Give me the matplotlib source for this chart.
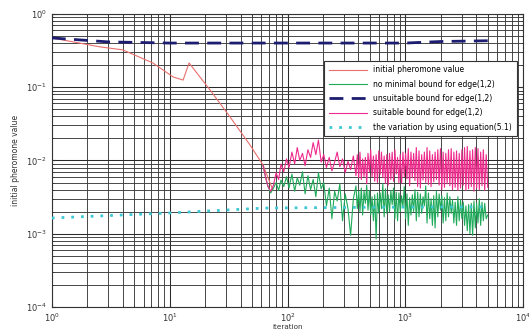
import numpy as np
import matplotlib
matplotlib.use("Agg")
import matplotlib.pyplot as plt
from matplotlib.ticker import LogLocator, NullFormatter

plt.rcParams["font.family"] = ["DejaVu Sans"]

# initial pheromone value (evaporation only)
init_x = [1, 2.56, 4.0, 7.2, 10.7, 13.0, 14.6, 22, 32.5, 48, 62, 75]
init_y = [0.47, 0.355, 0.323, 0.214, 0.138, 0.125, 0.214, 0.0917, 0.0393, 0.0163, 0.00868, 0.00396]

# unsuitable (upper) bound
upper_x = [1, 3, 10, 100, 1000, 2000, 5000]
upper_y = [0.47, 0.415, 0.40, 0.40, 0.40, 0.42, 0.43]

# variation by equation (5.1)
eq_x = [1, 10, 64, 500, 5000]
eq_y = [1.64e-3, 1.92e-3, 2.24e-3, 2.30e-3, 2.32e-3]

# iterations sampled for the noisy series
iters = [62, 65, 68, 72, 76, 80, 84, 88, 93, 98,
         103, 109, 115, 121, 127, 134, 141, 149, 157, 165, 174, 183, 193,
         203, 214, 226, 238, 251, 264, 278, 293, 309, 326, 343, 362,
         381, 391, 402, 412, 423, 434, 446, 458, 470, 482,
         495, 508, 522, 536, 550, 565, 580, 595, 611, 627,
         644, 661, 678, 696, 715, 734, 753, 773, 794, 815,
         837, 859, 882, 905, 929, 954, 979, 1005, 1032, 1059,
         1087, 1116, 1146, 1176, 1207, 1239, 1272, 1306, 1341, 1376,
         1413, 1450, 1489, 1528, 1569, 1610, 1653, 1697, 1742, 1788,
         1836, 1885, 1935, 1986, 2039, 2093, 2148, 2205, 2264, 2324,
         2386, 2449, 2514, 2581, 2649, 2719, 2791, 2865, 2941, 3019,
         3100, 3182, 3266, 3353, 3442, 3533, 3627, 3723, 3822, 3923,
         4027, 4134, 4244, 4357, 4472, 4591, 4713, 4855, 5000]

suitable = [8.5e-3, 6.0e-3, 4.5e-3, 3.8e-3, 4.6e-3, 6.8e-3, 5.5e-3, 8.9e-3, 7.0e-3, 1.05e-2,
            8.0e-3, 1.3e-2, 9.0e-3, 1.5e-2, 1.0e-2, 1.25e-2, 8.5e-3, 1.4e-2, 1.1e-2, 1.75e-2,
            1.2e-2, 1.9e-2, 9.5e-3,
            1.2e-2, 8.0e-3, 1.1e-2, 7.2e-3, 9.5e-3, 1.3e-2, 8.2e-3, 1.05e-2, 6.8e-3, 9.8e-3,
            7.5e-3, 1.15e-2,
            6.2e-3, 1.2e-2, 5.8e-3, 1.3e-2, 5.5e-3, 1.05e-2, 6.0e-3, 1.1e-2, 4.8e-3, 1.25e-2,
            7.0e-3, 1.4e-2, 6.0e-3, 1.15e-2, 5.2e-3, 1.2e-2, 5.0e-3, 1.35e-2, 6.4e-3, 1.3e-2,
            5.8e-3, 1.15e-2, 4.9e-3, 1.2e-2, 4.6e-3, 1.25e-2, 5.5e-3, 1.3e-2, 5.2e-3, 1.4e-2,
            6.5e-3, 1.1e-2, 5.0e-3, 1.2e-2, 4.9e-3, 1.3e-2, 6.0e-3, 1.25e-2, 5.6e-3, 1.45e-2,
            4.5e-3, 1.3e-2, 5.8e-3, 1.25e-2, 5.3e-3, 1.5e-2, 4.4e-3, 1.35e-2, 4.2e-3, 1.2e-2,
            5.4e-3, 1.3e-2, 5.0e-3, 1.5e-2, 4.7e-3, 1.35e-2, 4.4e-3, 1.2e-2, 5.1e-3, 1.3e-2,
            5.5e-3, 1.4e-2, 4.6e-3, 1.45e-2, 4.0e-3, 1.3e-2, 4.3e-3, 1.25e-2, 4.8e-3, 1.4e-2,
            4.5e-3, 1.45e-2, 4.0e-3, 1.3e-2, 4.3e-3, 1.35e-2, 3.9e-3, 1.25e-2, 4.2e-3, 1.4e-2,
            4.6e-3, 1.5e-2, 3.9e-3, 1.55e-2, 4.1e-3, 1.35e-2, 4.4e-3, 1.4e-2, 3.8e-3, 1.5e-2,
            4.2e-3, 1.45e-2, 4.0e-3, 1.3e-2, 4.5e-3, 1.4e-2, 3.9e-3, 1.2e-2, 4.3e-3]

no_min = [8.5e-3, 6.0e-3, 4.5e-3, 3.6e-3, 4.2e-3, 5.0e-3, 3.9e-3, 5.4e-3, 4.4e-3, 6.0e-3,
          4.2e-3, 6.5e-3, 3.8e-3, 5.8e-3, 4.6e-3, 7.0e-3, 3.5e-3, 6.2e-3, 4.0e-3, 5.5e-3,
          3.2e-3, 6.8e-3, 4.1e-3,
          5.0e-3, 2.4e-3, 4.2e-3, 1.6e-3, 3.8e-3, 2.8e-3, 4.8e-3, 1.5e-3, 3.5e-3, 2.2e-3,
          9.5e-4, 3.0e-3,
          4.5e-3, 2.2e-3, 3.8e-3, 2.0e-3, 4.2e-3, 1.8e-3, 3.8e-3, 2.6e-3, 4.6e-3, 2.1e-3,
          3.9e-3, 1.8e-3, 3.2e-3, 1.5e-3, 3.4e-3, 8.5e-4, 3.6e-3, 1.9e-3, 3.6e-3, 2.2e-3,
          4.8e-3, 1.7e-3, 4.1e-3, 1.9e-3, 3.4e-3, 2.0e-3, 3.9e-3, 2.5e-3, 4.2e-3, 1.6e-3,
          3.7e-3, 1.5e-3, 3.6e-3, 2.0e-3, 3.3e-3, 2.3e-3, 4.4e-3, 1.6e-3, 3.5e-3, 1.3e-3,
          3.1e-3, 1.8e-3, 3.4e-3, 2.0e-3, 4.0e-3, 1.5e-3, 3.7e-3, 1.7e-3, 3.5e-3, 1.9e-3,
          3.2e-3, 2.4e-3, 4.5e-3, 1.4e-3, 3.6e-3, 1.6e-3, 3.0e-3, 1.3e-3, 3.3e-3, 1.2e-3,
          3.8e-3, 1.7e-3, 3.5e-3, 2.1e-3, 3.3e-3, 1.4e-3, 3.1e-3, 1.5e-3, 3.6e-3, 1.7e-3,
          3.2e-3, 1.9e-3, 2.9e-3, 1.4e-3, 2.7e-3, 1.3e-3, 3.2e-3, 1.5e-3, 2.9e-3, 1.6e-3,
          2.7e-3, 1.3e-3, 2.4e-3, 1.1e-3, 2.5e-3, 1.0e-3, 2.6e-3, 9.5e-4, 2.8e-3, 1.2e-3,
          2.6e-3, 1.4e-3, 3.0e-3, 1.3e-3, 2.7e-3, 1.5e-3, 2.6e-3, 1.6e-3, 1.8e-3]

fig = plt.figure(figsize=(5.29, 3.31), dpi=100)
ax = fig.add_axes([0.098, 0.0725, 0.891, 0.8855])

ax.loglog(init_x, init_y, color="#e8706e", lw=0.8, label="initial pheromone value", zorder=3)
ax.loglog(iters, no_min, color="#1faa5a", lw=0.8, label="no minimal bound for edge(1,2)", zorder=4)
ax.loglog(upper_x, upper_y, color="#1c1c70", lw=2.0, ls=(0, (5, 3)),
          label="unsuitable bound for edge(1,2)", zorder=6)
ax.loglog(iters, suitable, color="#ee2a8c", lw=0.8, label="suitable bound for edge(1,2)", zorder=5)
ax.loglog(eq_x, eq_y, color="#3cc8d4", lw=2.0, ls=(0, (1, 2.5)),
          label="the variation by using equation(5.1)", zorder=6)

ax.set_xlim(1, 1e4)
ax.set_ylim(1e-4, 1)
ax.xaxis.set_major_locator(LogLocator(base=10, numticks=10))
ax.yaxis.set_major_locator(LogLocator(base=10, numticks=10))
ax.xaxis.set_minor_locator(LogLocator(base=10, subs=np.arange(2, 10), numticks=20))
ax.yaxis.set_minor_locator(LogLocator(base=10, subs=np.arange(2, 10), numticks=20))
ax.xaxis.set_minor_formatter(NullFormatter())
ax.yaxis.set_minor_formatter(NullFormatter())

ax.grid(True, which="major", color="#2a2a2a", lw=0.75)
ax.grid(True, which="minor", color="#3a3a3a", lw=0.65)
ax.tick_params(which="both", direction="in", top=True, right=True, labelsize=6, colors="#333333")
ax.tick_params(which="major", length=3)
ax.tick_params(which="minor", length=1.5)
for sp in ax.spines.values():
    sp.set_color("#333333")
    sp.set_linewidth(0.8)

ax.set_xlabel("iteration", fontsize=5.2, color="#333333", labelpad=-0.3)
ax.set_ylabel("initial pheromone value", fontsize=5.5, color="#333333", labelpad=4)

leg = ax.legend(loc="upper right", bbox_to_anchor=(0.994, 0.853), fontsize=5.5,
                handlelength=5, frameon=True, fancybox=False, framealpha=1,
                edgecolor="#333333", borderpad=0.6, labelspacing=0.7)
leg.get_frame().set_linewidth(0.8)
leg.set_zorder(10)

fig.savefig("out.png", dpi=100, facecolor="white")
